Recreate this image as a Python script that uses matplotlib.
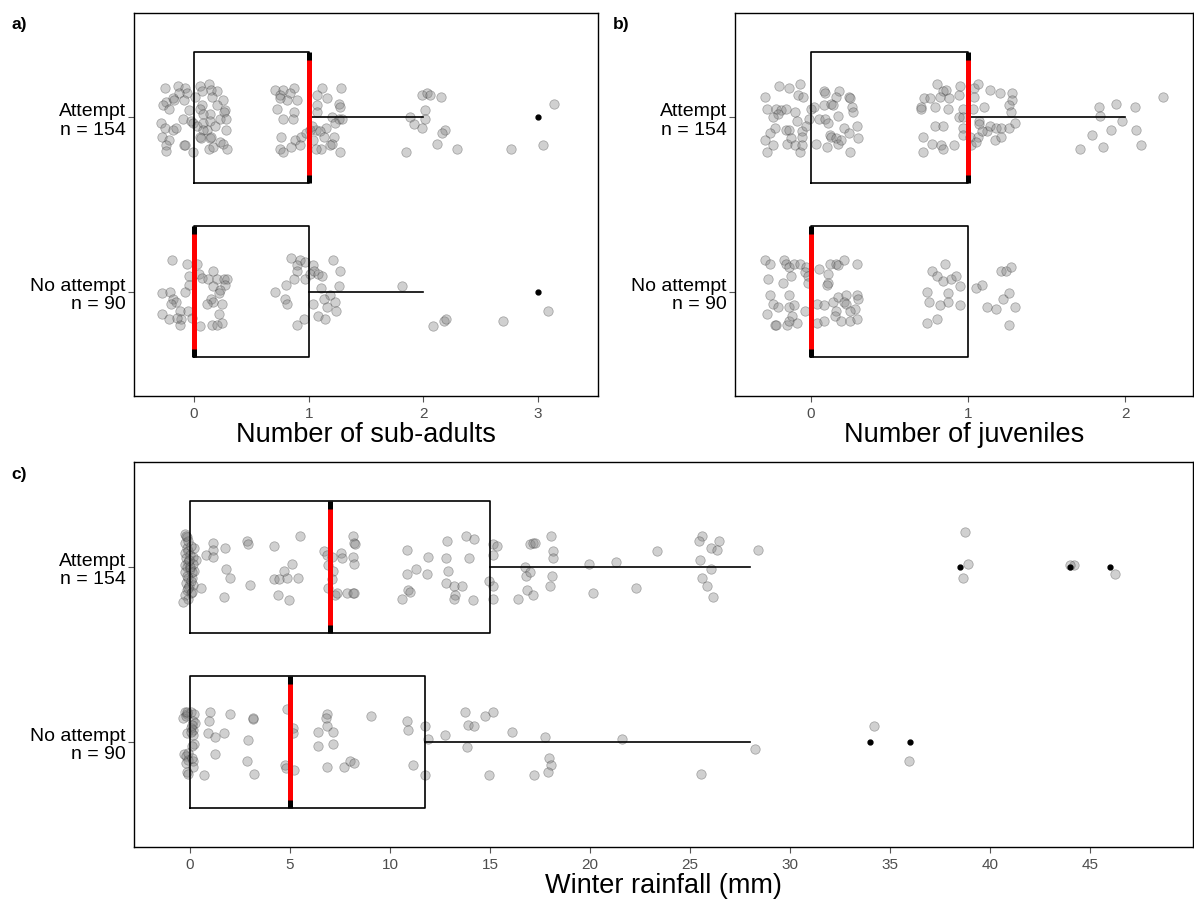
import numpy as np
import matplotlib.pyplot as plt

plt.rcParams['font.family'] = ['Liberation Sans', 'DejaVu Sans']

# categories (bottom to top)
groups = ['No attempt\nn = 90', 'Attempt\nn = 154']

# box statistics, order = [No attempt, Attempt]
sub_q1, sub_med, sub_q3 = [0, 0], [0, 1], [1, 1]
sub_lo, sub_hi, sub_out = [0, 0], [2, 2], [[3], [3]]

juv_q1, juv_med, juv_q3 = [0, 0], [0, 1], [1, 1]
juv_lo, juv_hi, juv_out = [0, 0], [1, 2], [[], []]

rain_q1, rain_med, rain_q3 = [0, 0], [5, 7], [11.75, 15]
rain_lo, rain_hi, rain_out = [0, 0], [28, 28], [[34, 36], [38.5, 44, 46]]

# jittered observations as (value, vertical jitter)
sub_attempt = [
    (-0.25, 0.17), (-0.14, 0.18), (-0.08, 0.17), (0.05, 0.18), (0.13, 0.19), (0.15, 0.16), (0.20, 0.15),
    (0.07, 0.15), (-0.06, 0.14), (-0.13, 0.14), (-0.18, 0.11), (-0.24, 0.09), (-0.27, 0.07), (-0.22, 0.05),
    (-0.17, 0.10), (-0.09, 0.10), (0.01, 0.12), (0.16, 0.12), (0.25, 0.10), (0.07, 0.07), (0.05, 0.05),
    (0.20, 0.07), (0.27, 0.04), (0.26, 0.03), (0.14, 0.02), (0.08, 0.02), (-0.04, 0.04), (-0.10, -0.01),
    (-0.03, -0.02), (-0.29, -0.03), (-0.25, -0.06), (-0.18, -0.07), (-0.16, -0.06), (-0.01, -0.03),
    (0.03, -0.05), (0.08, -0.03), (0.14, -0.02), (0.18, -0.05), (0.23, -0.01), (0.28, -0.01), (0.11, -0.07),
    (0.28, -0.07), (0.08, -0.07), (-0.28, -0.11), (-0.22, -0.13), (-0.24, -0.16), (-0.24, -0.19),
    (-0.09, -0.16), (-0.08, -0.16), (-0.01, -0.20), (0.05, -0.11), (0.06, -0.12), (0.14, -0.12),
    (0.15, -0.11), (0.23, -0.14), (0.13, -0.18), (0.17, -0.17), (0.25, -0.15), (0.29, -0.18),
    (0.71, 0.16), (0.78, 0.16), (0.87, 0.17), (0.75, 0.13), (0.84, 0.14), (0.90, 0.10), (0.81, 0.10),
    (0.75, 0.11), (0.72, 0.05), (0.87, 0.03), (0.78, -0.01), (0.86, -0.01), (1.12, 0.17), (1.28, 0.17),
    (1.07, 0.13), (1.16, 0.11), (1.07, 0.07), (1.26, 0.08), (1.27, 0.06), (1.07, 0.03), (1.20, 0.00),
    (1.26, -0.01), (1.23, -0.03), (1.29, -0.01), (1.15, -0.06), (1.06, -0.07), (1.10, -0.08), (1.01, -0.07),
    (0.76, -0.11), (0.88, -0.13), (0.93, -0.11), (0.98, -0.09), (1.13, -0.11), (1.22, -0.11), (1.04, -0.13),
    (0.85, -0.17), (0.75, -0.18), (0.78, -0.20), (0.92, -0.16), (1.11, -0.18), (1.19, -0.16), (1.20, -0.15),
    (1.27, -0.20), (1.06, -0.18), (1.03, -0.05),
    (1.99, 0.13), (2.03, 0.14), (2.06, 0.13), (2.15, 0.12), (2.01, 0.04), (1.88, 0.00), (2.01, -0.01),
    (1.92, -0.04), (1.99, -0.06), (2.19, -0.07), (2.16, -0.09), (2.12, -0.15), (2.29, -0.18), (1.85, -0.20),
    (3.14, 0.08), (2.76, -0.18), (3.04, -0.16),
]
sub_none = [
    (-0.19, 0.18), (-0.06, 0.16), (0.03, 0.16), (0.17, 0.12), (-0.04, 0.09), (0.04, 0.10), (0.07, 0.08),
    (0.12, 0.07), (0.20, 0.07), (0.26, 0.07), (0.29, 0.07), (0.27, 0.04), (0.17, 0.03), (-0.04, 0.04),
    (0.23, 0.01), (0.22, -0.01), (-0.28, -0.01), (-0.21, 0.00), (-0.08, 0.00), (-0.18, -0.04),
    (-0.16, -0.06), (-0.20, -0.07), (0.15, -0.04), (0.17, -0.06), (0.11, -0.07), (0.24, -0.07),
    (-0.28, -0.13), (-0.22, -0.16), (-0.12, -0.11), (-0.11, -0.16), (-0.12, -0.19), (-0.05, -0.11),
    (-0.02, -0.15), (0.05, -0.20), (0.16, -0.19), (0.20, -0.19), (0.24, -0.18), (0.22, -0.13), (-0.15, -0.15),
    (0.85, 0.19), (0.92, 0.18), (0.90, 0.15), (0.97, 0.17), (1.04, 0.15), (1.21, 0.18), (0.90, 0.12),
    (1.01, 0.10), (1.05, 0.12), (1.08, 0.10), (1.12, 0.09), (1.27, 0.12), (0.87, 0.07), (0.97, 0.07),
    (0.80, 0.04), (1.11, 0.02), (1.26, 0.03), (0.71, 0.00), (0.79, -0.04), (0.81, -0.07), (1.19, -0.02),
    (1.13, -0.04), (1.23, -0.06), (1.04, -0.07), (1.16, -0.09), (1.24, -0.11), (1.08, -0.14), (1.14, -0.16),
    (0.96, -0.16), (0.90, -0.19),
    (1.81, 0.03), (2.08, -0.20), (2.18, -0.17), (2.20, -0.16),
    (2.69, -0.17), (3.09, -0.11),
]

juv_attempt = [
    (-0.29, 0.12), (-0.20, 0.18), (-0.14, 0.17), (-0.07, 0.19), (-0.08, 0.13), (-0.05, 0.12), (0.08, 0.15),
    (0.09, 0.14), (0.18, 0.15), (0.16, 0.12), (0.24, 0.12), (0.25, 0.11), (-0.28, 0.05), (-0.22, 0.05),
    (-0.19, 0.04), (-0.16, 0.05), (-0.21, 0.02), (-0.24, 0.00), (-0.10, 0.03), (0.00, 0.05), (0.02, 0.06),
    (0.08, 0.07), (0.13, 0.08), (0.14, 0.07), (0.26, 0.06), (0.17, 0.01), (0.27, 0.03), (-0.09, -0.02),
    (-0.01, -0.01), (0.05, -0.01), (0.09, -0.01), (0.11, -0.03), (-0.23, -0.06), (-0.16, -0.07),
    (-0.14, -0.07), (-0.06, -0.08), (-0.03, -0.05), (0.21, -0.06), (0.29, -0.05), (-0.26, -0.09),
    (-0.29, -0.13), (-0.24, -0.16), (-0.28, -0.20), (-0.15, -0.15), (-0.13, -0.12), (-0.10, -0.16),
    (-0.06, -0.11), (-0.07, -0.20), (-0.06, -0.16), (0.03, -0.15), (0.10, -0.17), (0.12, -0.10),
    (0.13, -0.11), (0.16, -0.12), (0.17, -0.15), (0.19, -0.13), (0.24, -0.09), (0.30, -0.12), (0.25, -0.20),
    (0.80, 0.19), (0.72, 0.11), (0.76, 0.11), (0.84, 0.15), (0.86, 0.16), (0.82, 0.12), (0.88, 0.11),
    (0.94, 0.13), (0.95, 0.18), (1.04, 0.17), (1.06, 0.19), (1.04, 0.12), (1.14, 0.16), (1.20, 0.14),
    (1.28, 0.14), (1.28, 0.10), (0.70, 0.06), (0.70, 0.05), (0.79, 0.06), (0.87, 0.05), (0.97, 0.05),
    (1.03, 0.05), (1.10, 0.06), (1.26, 0.07), (1.27, 0.03), (0.94, 0.00), (0.97, 0.00), (1.07, -0.02),
    (1.07, -0.04), (1.12, -0.08), (1.14, -0.05), (1.18, -0.06), (1.21, -0.06), (1.26, -0.06), (1.30, -0.03),
    (0.79, -0.05), (0.84, -0.05), (0.97, -0.06), (0.97, -0.10), (1.01, -0.11), (1.06, -0.11), (1.09, -0.08),
    (1.17, -0.13), (1.21, -0.11), (0.71, -0.11), (0.77, -0.15), (0.83, -0.16), (0.91, -0.16), (0.71, -0.20),
    (0.84, -0.18), (1.02, -0.16), (1.05, -0.14),
    (1.83, 0.06), (1.94, 0.08), (2.06, 0.06), (1.84, 0.01), (1.98, -0.02), (1.91, -0.07), (2.07, -0.07),
    (1.79, -0.10), (1.86, -0.17), (1.71, -0.18), (2.10, -0.16), (2.24, 0.12),
]
juv_none = [
    (-0.29, 0.18), (-0.26, 0.16), (-0.17, 0.18), (-0.16, 0.16), (-0.14, 0.14), (-0.11, 0.16), (-0.07, 0.16),
    (-0.03, 0.14), (-0.04, 0.11), (-0.02, 0.09), (-0.02, 0.05), (0.05, 0.13), (0.12, 0.16), (0.16, 0.16),
    (0.17, 0.15), (0.21, 0.18), (0.29, 0.16), (0.11, 0.10), (0.11, 0.05), (0.10, 0.04), (-0.27, 0.07),
    (-0.18, 0.05), (-0.13, 0.09), (-0.26, -0.02), (-0.24, -0.07), (-0.21, -0.09), (-0.14, -0.02),
    (-0.14, -0.09), (-0.11, -0.08), (-0.04, -0.11), (-0.28, -0.13), (-0.23, -0.19), (-0.22, -0.19),
    (-0.15, -0.19), (-0.14, -0.17), (-0.12, -0.14), (-0.09, -0.18), (0.04, -0.07), (0.08, -0.08),
    (0.14, -0.06), (0.17, -0.03), (0.22, -0.02), (0.21, -0.06), (0.22, -0.07), (0.29, -0.02), (0.30, -0.04),
    (0.28, -0.10), (0.25, -0.11), (0.16, -0.11), (0.15, -0.14), (0.19, -0.17), (0.04, -0.18), (0.08, -0.17),
    (0.25, -0.17), (0.29, -0.16),
    (0.77, 0.12), (0.85, 0.16), (0.80, 0.09), (0.84, 0.06), (0.89, 0.07), (0.92, 0.09), (0.95, 0.03),
    (0.74, 0.00), (0.75, -0.06), (0.87, -0.01), (0.87, -0.06), (0.82, -0.08), (0.95, -0.08), (0.74, -0.18),
    (0.80, -0.16), (1.05, 0.02), (1.09, 0.04), (1.12, -0.09), (1.18, -0.10), (1.22, -0.04), (1.26, -0.01),
    (1.21, 0.12), (1.24, 0.12), (1.27, 0.14), (1.26, -0.19), (1.30, -0.09),
]

rain_attempt = [
    (-0.25, 0.19), (-0.17, 0.17), (-0.25, 0.14), (-0.17, 0.11), (-0.08, 0.09), (-0.25, 0.08), (0.00, 0.07),
    (0.17, 0.06), (-0.20, 0.05), (-0.08, 0.03), (-0.25, 0.01), (-0.17, 0.00), (0.00, -0.01), (0.20, -0.02),
    (-0.25, -0.03), (-0.08, -0.06), (0.08, -0.06), (-0.20, -0.09), (-0.03, -0.11), (0.17, -0.10),
    (-0.17, -0.13), (0.03, -0.15), (-0.25, -0.16), (-0.08, -0.18), (-0.33, -0.20), (0.20, 0.11),
    (0.30, 0.04), (0.53, -0.12), (0.13, 0.02), (-0.12, 0.15), (0.05, 0.12), (-0.05, 0.04), (0.10, -0.03),
    (-0.15, -0.05), (0.05, -0.08), (-0.10, -0.12), (0.12, -0.14), (-0.20, 0.18), (0.02, 0.00),
    (1.17, 0.14), (1.13, 0.10), (0.80, 0.07), (1.17, 0.06), (1.75, 0.11), (2.87, 0.15), (2.92, 0.13),
    (4.20, 0.12), (5.50, 0.18), (1.80, -0.01), (2.00, -0.06), (3.00, -0.10), (1.70, -0.17), (4.20, -0.07),
    (4.47, -0.07), (4.87, -0.06), (4.70, -0.02), (5.08, 0.02), (5.42, -0.06), (4.42, -0.16), (4.97, -0.19),
    (6.70, 0.09), (6.87, 0.07), (7.08, 0.06), (7.53, 0.08), (7.58, 0.05), (8.17, 0.18), (8.20, 0.14),
    (8.25, 0.13), (8.17, 0.06), (8.20, 0.02), (6.92, 0.01), (7.17, -0.02), (7.08, -0.07), (6.92, -0.12),
    (7.25, -0.16), (7.37, -0.15), (7.87, -0.15), (8.13, -0.15), (8.20, -0.15),
    (10.87, 0.10), (10.87, -0.04), (11.30, -0.01), (11.92, 0.06), (11.87, -0.04), (10.58, -0.18),
    (10.92, -0.13), (11.00, -0.14), (12.87, 0.15), (12.80, 0.05), (12.92, -0.02), (12.80, -0.09),
    (13.20, -0.11), (13.58, -0.11), (13.25, -0.16), (13.20, -0.18), (13.80, 0.18), (14.20, 0.16),
    (13.97, 0.05), (14.13, -0.19),
    (15.17, 0.13), (15.33, 0.12), (15.13, 0.07), (14.96, -0.08), (15.17, -0.11), (15.13, -0.18),
    (16.39, -0.18), (16.75, 0.00), (16.81, -0.05), (17.02, -0.03), (17.02, 0.13), (17.17, 0.14),
    (17.27, 0.14), (18.07, 0.18), (18.16, 0.09), (18.16, 0.05), (18.11, -0.05), (18.01, -0.11),
    (16.85, -0.13), (17.17, -0.16), (19.96, 0.02), (20.17, -0.15), (21.31, 0.03), (22.28, -0.12),
    (23.33, 0.09), (25.58, 0.18), (25.43, 0.15), (26.47, 0.15), (26.07, 0.11), (26.36, 0.10), (25.48, 0.04),
    (26.07, -0.01), (25.62, -0.06), (25.84, -0.11), (26.15, -0.17), (28.38, 0.10),
    (38.73, 0.20), (38.90, 0.02), (38.67, -0.06), (44.20, 0.01), (43.99, 0.01), (46.26, -0.04),
]
rain_none = [
    (-0.25, 0.17), (-0.13, 0.16), (-0.33, 0.14), (0.03, 0.17), (0.20, 0.16), (0.13, 0.12), (0.25, 0.11),
    (0.03, 0.08), (0.17, 0.07), (-0.17, 0.05), (0.13, 0.04), (0.20, -0.01), (0.08, -0.02), (-0.30, -0.07),
    (-0.20, -0.08), (-0.08, -0.10), (-0.20, -0.12), (0.13, -0.11), (0.17, -0.14), (-0.13, -0.17),
    (-0.08, -0.18), (0.70, -0.19), (1.00, 0.17), (0.97, 0.12), (2.00, 0.16), (3.17, 0.13), (3.13, 0.14),
    (-0.20, 0.15), (0.10, 0.10), (0.05, 0.06), (-0.10, -0.06), (0.10, -0.09), (-0.15, 0.17),
    (0.92, 0.05), (1.25, 0.03), (1.70, 0.05), (2.92, 0.01), (1.25, -0.07), (2.87, -0.11), (3.20, -0.18),
    (4.75, -0.13), (4.80, -0.15), (5.20, -0.16), (4.87, 0.19), (5.13, 0.08), (5.13, 0.05), (6.87, 0.16),
    (6.80, 0.14), (6.83, 0.09), (6.42, 0.06), (7.13, 0.06), (6.42, -0.02), (7.13, -0.01), (6.83, -0.14),
    (7.70, -0.14), (8.00, -0.11), (8.20, -0.12), (9.07, 0.15), (10.87, 0.12), (10.92, 0.07), (11.13, -0.13),
    (11.75, 0.09), (11.75, -0.19), (11.92, 0.02), (12.75, 0.04), (13.75, 0.17), (13.92, 0.10), (14.20, 0.09),
    (14.75, 0.15), (15.17, 0.17), (13.83, -0.03), (14.97, -0.19),
    (16.08, 0.06), (17.75, 0.03), (17.97, -0.09), (18.03, -0.13), (17.92, -0.17), (17.20, -0.19),
    (21.58, 0.02), (25.53, -0.18), (28.25, -0.04), (34.20, 0.09), (35.97, -0.11),
]


def draw_panel(ax, pts, q1, med, q3, lo, hi, out, xlim, xticks, xlabel):
    pos = [1, 2]
    for p, group in zip(pos, pts):
        arr = np.array(group)
        ax.scatter(arr[:, 0], p + arr[:, 1], s=46, c='grey', edgecolors='#222222',
                   linewidths=0.5, alpha=0.37, zorder=2)
    stats = [dict(q1=q1[i], med=med[i], q3=q3[i], whislo=lo[i], whishi=hi[i], fliers=out[i])
             for i in range(2)]
    ax.bxp(stats, positions=pos, widths=0.75, orientation='horizontal', showcaps=False,
           boxprops=dict(color='black', lw=1.2),
           whiskerprops=dict(color='black', lw=1.2),
           medianprops=dict(color='black', lw=3.6, solid_capstyle='butt'),
           flierprops=dict(marker='o', markersize=3.5, markerfacecolor='black',
                           markeredgecolor='black'),
           manage_ticks=False, zorder=3)
    ax.vlines(med, np.array(pos) - 0.33, np.array(pos) + 0.33, color='red', lw=3.6, zorder=4)
    ax.set_xlim(xlim)
    ax.set_ylim(0.4, 2.6)
    ax.set_xticks(xticks)
    ax.set_yticks(pos)
    ax.set_yticklabels(groups, fontsize=14, linespacing=1.1)
    ax.tick_params(axis='x', labelsize=11, labelcolor='#4d4d4d', length=4, color='#555555', pad=3)
    ax.tick_params(axis='y', length=4, color='#555555', pad=2)
    ax.set_xlabel(xlabel, fontsize=19.5, labelpad=1)
    for sp in ax.spines.values():
        sp.set_linewidth(1.0)
        sp.set_color('black')


W, H = 1194, 903
fig = plt.figure(figsize=(W / 100, H / 100), dpi=100)


def box(l, t, r, b):
    return [l / W, 1 - b / H, (r - l) / W, (b - t) / H]


ax_a = fig.add_axes(box(134, 14, 598, 397))
ax_b = fig.add_axes(box(735, 14, 1193, 397))
ax_c = fig.add_axes(box(134, 463, 1193, 848))

draw_panel(ax_a, [sub_none, sub_attempt], sub_q1, sub_med, sub_q3, sub_lo, sub_hi, sub_out,
           (-0.523, 3.522), [0, 1, 2, 3], 'Number of sub-adults')
draw_panel(ax_b, [juv_none, juv_attempt], juv_q1, juv_med, juv_q3, juv_lo, juv_hi, juv_out,
           (-0.483, 2.43), [0, 1, 2], 'Number of juveniles')
draw_panel(ax_c, [rain_none, rain_attempt], rain_q1, rain_med, rain_q3, rain_lo, rain_hi, rain_out,
           (-2.8, 50.15), np.arange(0, 50, 5), 'Winter rainfall (mm)')

fig.text(11 / W, 1 - 25 / H, 'a)', fontsize=12.5, fontweight='bold', va='center')
fig.text(613 / W, 1 - 25 / H, 'b)', fontsize=12.5, fontweight='bold', va='center')
fig.text(11 / W, 1 - 475 / H, 'c)', fontsize=12.5, fontweight='bold', va='center')

fig.savefig('out.png', dpi=100)
